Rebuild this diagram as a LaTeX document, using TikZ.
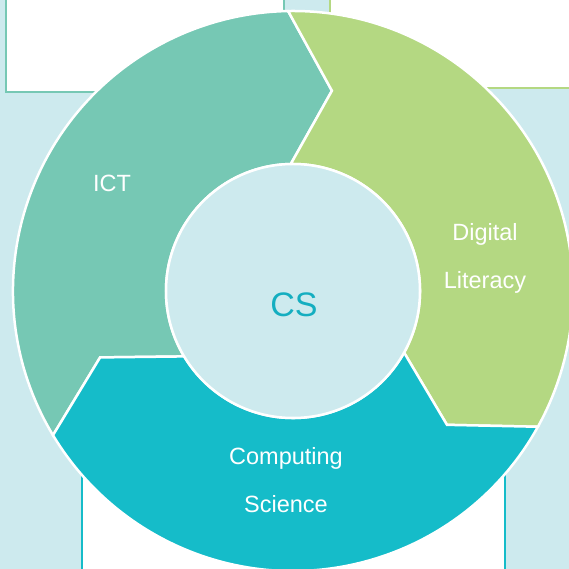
\documentclass[tikz,border=0pt]{standalone}
\usepackage{fontspec}
\setmainfont{Liberation Sans}
\usepackage{tikz}
\usetikzlibrary{positioning}
\definecolor{ictgreen}{HTML}{76C8B4}
\definecolor{litgreen}{HTML}{B4D882}
\definecolor{csteal}{HTML}{15BCC9}
\definecolor{paleblue}{HTML}{CDEAEE}
\definecolor{cstext}{HTML}{14AEC0}
\tikzset{%
	backbox/.style  = {draw, fill=white, line width=2.5pt},
	segment/.style  = {draw=white, line width=2.5pt, line join=miter},
	hub/.style      = {draw=white, fill=paleblue, circle, line width=2.5pt, minimum size=254pt, inner sep=0pt},
	seglabel/.style = {text=white, align=center, font=\fontsize{23.5}{48}\selectfont},
	hublabel/.style = {text=cstext, font=\fontsize{34}{40}\selectfont},
}
\begin{document}
\begin{tikzpicture}[x=1pt,y=1pt]
		\useasboundingbox (-293,-278) rectangle (276,291);
		\clip (-293,-278) rectangle (276,291);
		\fill[paleblue] (-293,-278) rectangle (276,291);
		
		% boxes behind the ring
		\draw[backbox,draw=ictgreen] (-287,199) rectangle (-9,320);
		\draw[backbox,draw=litgreen] (37,203) rectangle (320,320);
		\draw[backbox,draw=csteal] (-211,-120) rectangle (212,-320);
		
		% ring of arrow segments
		\foreach \a/\col in {211/ictgreen,91/litgreen,-29/csteal}
		\filldraw[segment,fill=\col] (\a:280) arc[start angle=\a, end angle=\a-120, radius=280] -- (\a-132:204) -- (\a-120:127) arc[start angle=\a-120, end angle=\a, radius=127] -- (\a-12:204) -- cycle;
		
		\node [hub] (hub) at (0,0) {};
		\node [hublabel] (cs) at (1,-14) {CS};
		
		\node [seglabel] (ict) at (-181,108) {ICT};
		\node [seglabel] (diglit) at (192,33) {Digital\\Literacy};
		\node [seglabel] (compsci) at (-7,-189) {Computing\\Science};
		\end{tikzpicture}
\end{document}
